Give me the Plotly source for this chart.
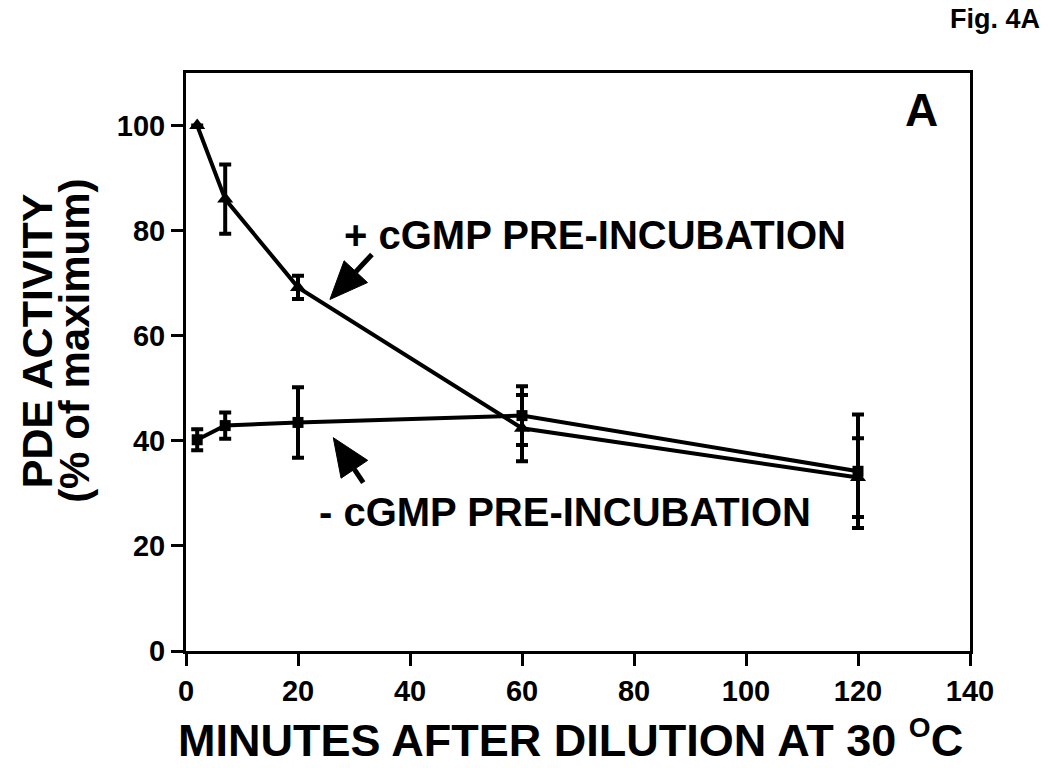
import math
import plotly.graph_objects as go

# minutes after dilution
minutes = [2, 7, 20, 60, 120]

# + cGMP pre-incubation (triangles); no error bar on the first point
plus_activity = [100, 86, 69.2, 42.4, 33]
plus_err = [None, 6.6, 2.2, 6.3, 7.5]

# - cGMP pre-incubation (squares)
minus_activity = [40.2, 42.9, 43.5, 44.8, 34.2]
minus_err = [2, 2.5, 6.7, 5.6, 10.8]

x_ticks = [0, 20, 40, 60, 80, 100, 120, 140]
y_ticks = [0, 20, 40, 60, 80, 100]

FONT = "Liberation Sans, Arial, sans-serif"

fig = go.Figure()

fig.add_trace(go.Scatter(
    x=minutes, y=minus_activity,
    mode="lines+markers",
    name="- cGMP",
    line=dict(color="black", width=4),
    marker=dict(symbol="square", size=11, color="black"),
    error_y=dict(type="data", array=minus_err, visible=True,
                 color="black", thickness=4, width=6),
))

fig.add_trace(go.Scatter(
    x=minutes, y=plus_activity,
    mode="lines+markers",
    name="+ cGMP",
    line=dict(color="black", width=4),
    marker=dict(symbol="triangle-up", size=14, color="black"),
    error_y=dict(type="data", array=plus_err, visible=True,
                 color="black", thickness=4, width=6),
))

axis_style = dict(
    showline=True, linecolor="black", linewidth=3, mirror=True,
    ticks="outside", ticklen=12, tickwidth=3, tickcolor="black",
    showgrid=False, zeroline=False,
    tickfont=dict(family=FONT, size=29, color="black", weight="bold"),
)

fig.update_xaxes(range=[0, 140], tickvals=x_ticks, **axis_style)
fig.update_yaxes(range=[0, 110], tickvals=y_ticks, **axis_style)


def add_arrow(tip_x, tip_y, dx, dy, head_len=38, head_half=16):
    # arrow drawn in pixels around the tip (dx, dy = tail offset, y up)
    n = math.hypot(dx, dy)
    ux, uy = dx / n, dy / n
    bx, by = ux * head_len, uy * head_len
    px, py = -uy * head_half, ux * head_half
    common = dict(type="path", xref="x", yref="y", xsizemode="pixel", ysizemode="pixel",
                  xanchor=tip_x, yanchor=tip_y)
    fig.add_shape(path=f"M{bx:.1f},{by:.1f} L{dx},{dy}",
                  line=dict(color="black", width=5), **common)
    fig.add_shape(path=f"M0,0 L{bx + px:.1f},{by + py:.1f} L{bx - px:.1f},{by - py:.1f} Z",
                  fillcolor="black", line=dict(color="black", width=1), **common)


add_arrow(25.7, 66.9, 42, 45)
add_arrow(26.3, 40.6, 30, -45)

big = dict(family=FONT, color="black", weight="bold")

annotations = [
    # curve labels
    dict(x=73, y=79.1, xref="x", yref="y", text="+ cGMP PRE-INCUBATION",
         showarrow=False, font=dict(size=40, **big)),
    dict(x=67.7, y=26.5, xref="x", yref="y", text="- cGMP PRE-INCUBATION",
         showarrow=False, font=dict(size=40, **big)),
    # panel letter
    dict(x=131.4, y=103, xref="x", yref="y", text="A",
         showarrow=False, font=dict(size=46, **big)),
    dict(x=1.032, y=1.093, xref="paper", yref="paper", xanchor="center", yanchor="middle",
         text="Fig. 4A", showarrow=False, font=dict(size=27, **big)),
    # axis titles
    dict(x=0.49, y=-0.152, xref="paper", yref="paper",
         xanchor="center", yanchor="middle",
         text="MINUTES AFTER DILUTION AT 30 <sup><span style='font-size:28px'>O</span></sup>C",
         showarrow=False, font=dict(size=45, **big)),
    dict(x=-0.19, y=0.536, xref="paper", yref="paper", textangle=-90,
         xanchor="center", yanchor="middle",
         text="PDE ACTIVITY", showarrow=False, font=dict(size=43, **big)),
    dict(x=-0.142, y=0.536, xref="paper", yref="paper", textangle=-90,
         xanchor="center", yanchor="middle",
         text="(% of maximum)", showarrow=False, font=dict(size=42, **big)),
]

fig.update_layout(
    width=1050, height=768,
    margin=dict(l=186, r=80, t=73, b=117),
    paper_bgcolor="white", plot_bgcolor="white",
    showlegend=False,
    annotations=annotations,
)

fig.write_html("out.html", config={"displayModeBar": False},
               post_script="document.body.style.margin='0';")
